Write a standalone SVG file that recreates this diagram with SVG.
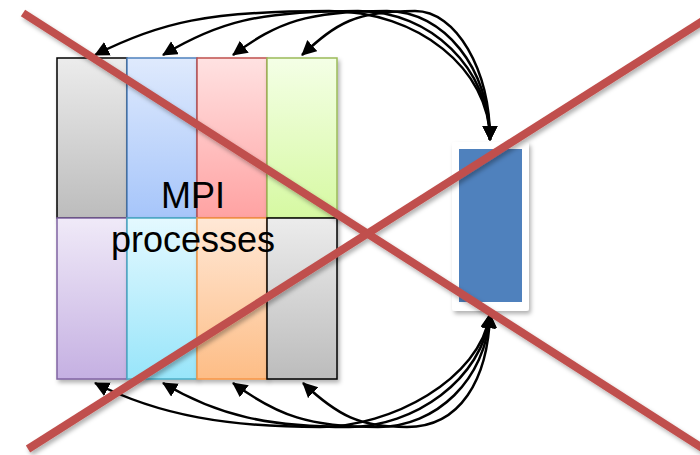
<svg xmlns="http://www.w3.org/2000/svg" width="700" height="455" viewBox="0 0 700 455">
<style>
.box{stroke-width:1.5}
.lbl{font-family:"Liberation Sans",Arial,sans-serif;font-size:36px;fill:#000;text-anchor:middle}
.conn path{fill:none;stroke:#000;stroke-width:2.5;marker-start:url(#ah);marker-end:url(#ah)}
.cross{stroke:#c0504d;stroke-width:8;fill:none}
</style>
<defs>
<filter id="sh" x="-20%" y="-20%" width="140%" height="140%">
<feDropShadow dx="2" dy="3" stdDeviation="2" flood-color="#000" flood-opacity="0.3"/>
</filter>
<filter id="shl" x="-5%" y="-5%" width="110%" height="110%">
<feDropShadow dx="2" dy="3" stdDeviation="2" flood-color="#000" flood-opacity="0.3"/>
</filter>
<marker id="ah" markerUnits="userSpaceOnUse" markerWidth="18" markerHeight="16" refX="14" refY="7.5" orient="auto-start-reverse">
<path d="M0,0 L15,7.5 L0,15 z" fill="#000"/>
</marker>
<linearGradient id="gGray" x1="0" y1="0" x2="0" y2="1"><stop offset="0" stop-color="#ececec"/><stop offset="1" stop-color="#bcbcbc"/></linearGradient>
<linearGradient id="gBlue" x1="0" y1="0" x2="0" y2="1"><stop offset="0" stop-color="#dfeafd"/><stop offset="1" stop-color="#a6c5fa"/></linearGradient>
<linearGradient id="gRed" x1="0" y1="0" x2="0" y2="1"><stop offset="0" stop-color="#ffe2e2"/><stop offset="1" stop-color="#ffa2a2"/></linearGradient>
<linearGradient id="gGreen" x1="0" y1="0" x2="0" y2="1"><stop offset="0" stop-color="#f4ffe6"/><stop offset="1" stop-color="#d6f9a2"/></linearGradient>
<linearGradient id="gPurple" x1="0" y1="0" x2="0" y2="1"><stop offset="0" stop-color="#f0eaf8"/><stop offset="1" stop-color="#c5b0e2"/></linearGradient>
<linearGradient id="gCyan" x1="0" y1="0" x2="0" y2="1"><stop offset="0" stop-color="#e4f9ff"/><stop offset="1" stop-color="#98e5fa"/></linearGradient>
<linearGradient id="gOrange" x1="0" y1="0" x2="0" y2="1"><stop offset="0" stop-color="#ffe8d6"/><stop offset="1" stop-color="#fdbd86"/></linearGradient>
</defs>
<rect width="700" height="455" fill="#fff"/>

<g id="p1"><rect class="box" x="57" y="58" width="70" height="160" fill="url(#gGray)" stroke="#000" filter="url(#sh)"/></g>
<g id="p2"><rect class="box" x="127" y="58" width="70" height="160" fill="url(#gBlue)" stroke="#4f81bd" filter="url(#sh)"/></g>
<g id="p3"><rect class="box" x="197" y="58" width="70" height="160" fill="url(#gRed)" stroke="#c0504d" filter="url(#sh)"/></g>
<g id="p4"><rect class="box" x="267" y="58" width="70" height="160" fill="url(#gGreen)" stroke="#9bbb59" filter="url(#sh)"/></g>
<g id="p5"><rect class="box" x="57" y="218" width="70" height="161" fill="url(#gPurple)" stroke="#8064a2" filter="url(#sh)"/></g>
<g id="p6"><rect class="box" x="127" y="218" width="70" height="161" fill="url(#gCyan)" stroke="#4bacc6" filter="url(#sh)"/></g>
<g id="p7"><rect class="box" x="197" y="218" width="70" height="161" fill="url(#gOrange)" stroke="#f79646" filter="url(#sh)"/></g>
<g id="p8"><rect class="box" x="267" y="218" width="70" height="161" fill="url(#gGray)" stroke="#000" filter="url(#sh)"/></g>

<g id="label">
<text class="lbl" x="193" y="208">MPI</text>
<text class="lbl" x="193" y="252">processes</text>
</g>

<g id="target">
<rect x="452" y="142" width="77" height="169" rx="3" fill="#fff" filter="url(#sh)"/>
<rect x="459" y="149" width="63" height="153" fill="#4f81bd"/>
</g>

<g id="connectors" class="conn">
<path d="M95,55 C160,22 209,11 329,11 C418,11 490,69 490,140"/>
<path d="M163,55 C218,22 258,11 358,11 C431,11 490,69 490,140"/>
<path d="M233,55 C278,22 307,11 387,11 C444,11 490,69 490,140"/>
<path d="M302,55 C337,23 355,11 415,11 C456,11 490,69 490,140"/>
<path d="M95,383 C160,416 230,427 320,427 C390,427 480,380 490,314"/>
<path d="M163,383 C218,416 270,427 349,427 C413,427 483,380 490,314"/>
<path d="M233,383 C278,416 310,427 378,427 C436,427 486,380 490,314"/>
<path d="M303,383 C338,416 360,427 407,427 C460,427 488,380 490,314"/>
</g>

<g id="cross" filter="url(#shl)">
<line class="cross" x1="23" y1="13" x2="710" y2="453"/>
<line class="cross" x1="28" y1="449" x2="712" y2="15"/>
</g>
</svg>
